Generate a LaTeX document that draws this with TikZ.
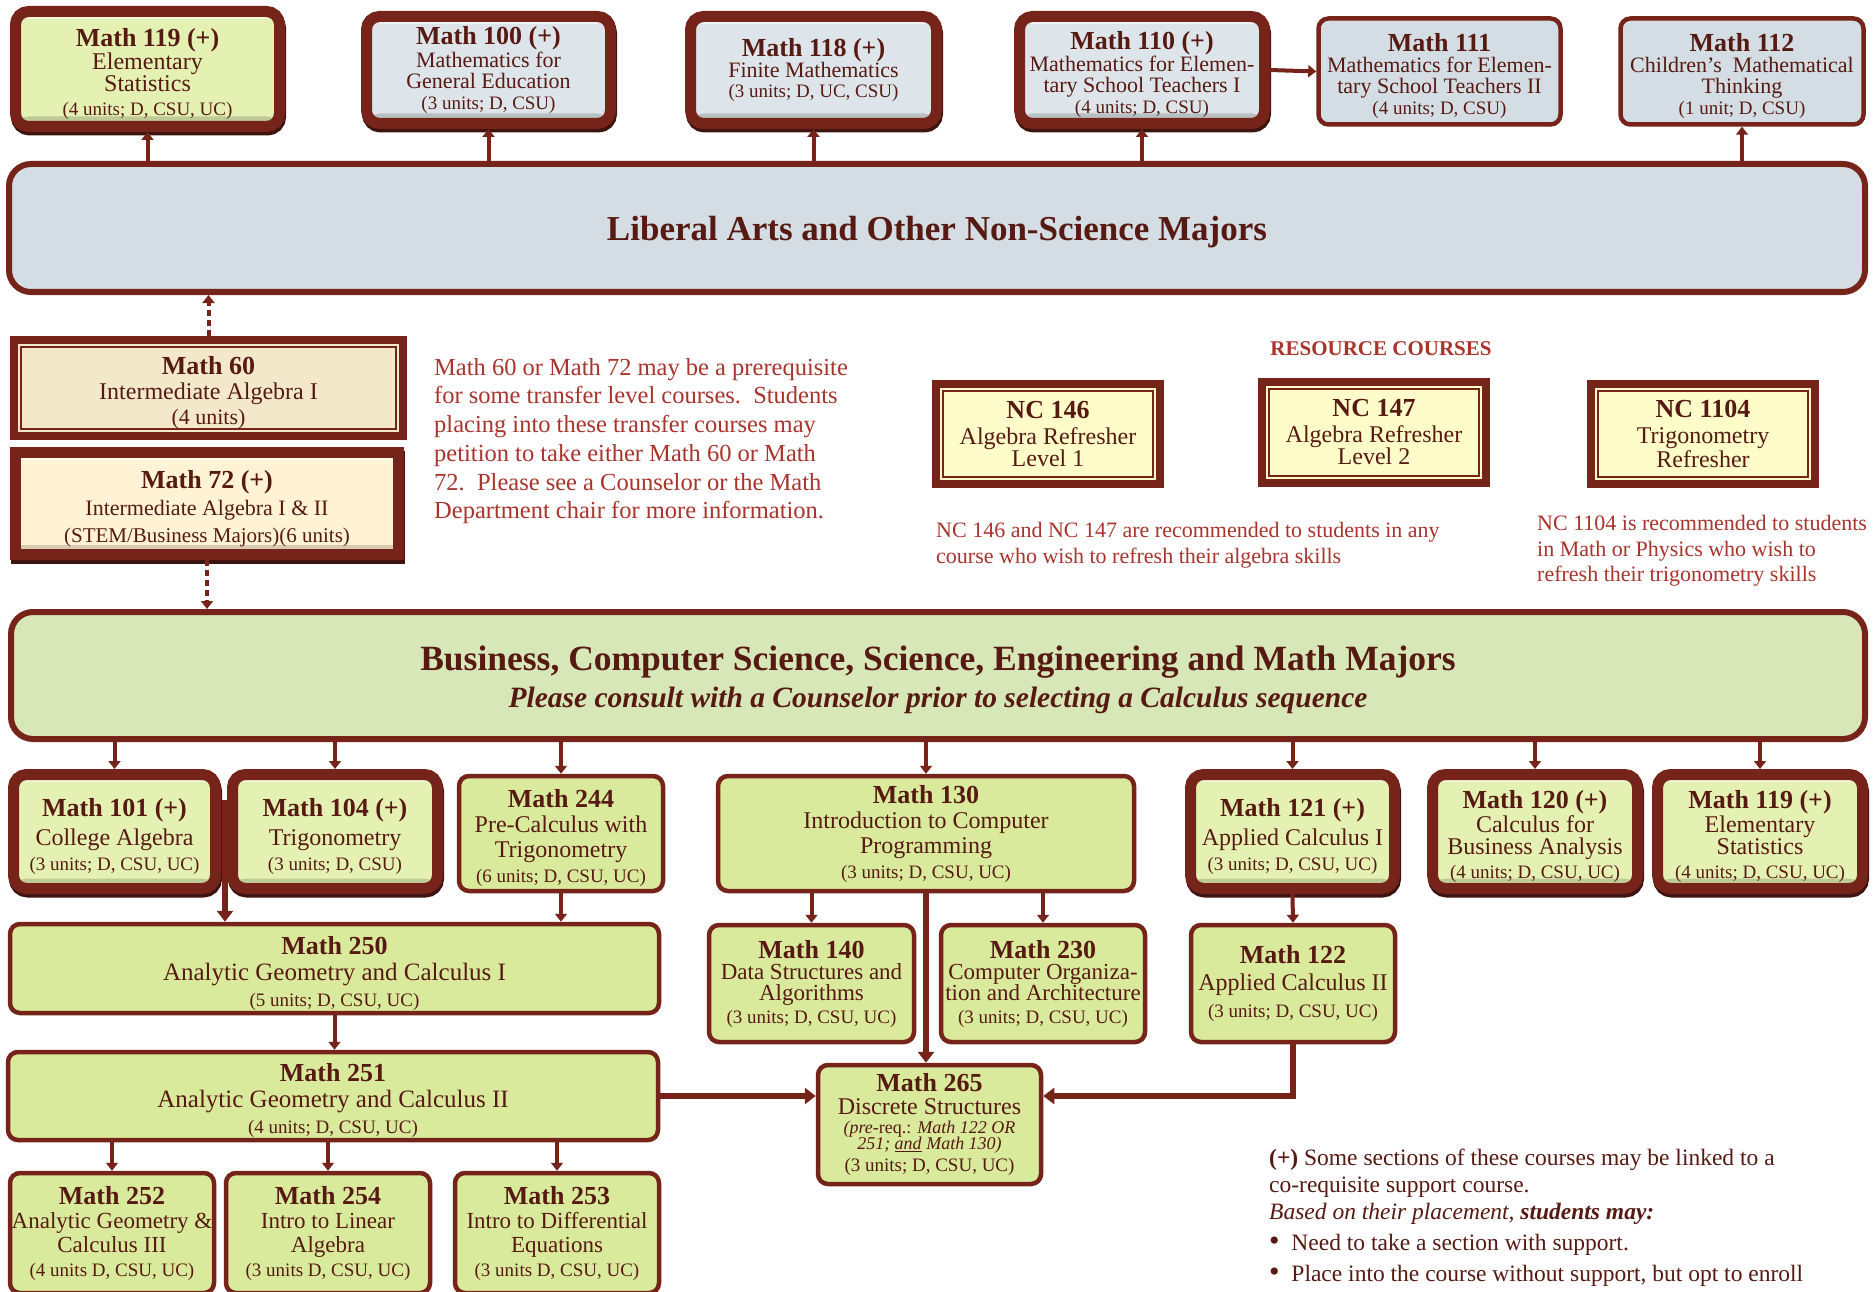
\documentclass[tikz,border=0pt]{standalone}
\usepackage{fontspec}
\setmainfont{Liberation Serif}
\usetikzlibrary{arrows.meta}

\definecolor{frame}{HTML}{76231A}
\definecolor{framedk}{HTML}{3E1410}
\definecolor{txt}{HTML}{561A12}
\definecolor{redtxt}{HTML}{A8342C}
\definecolor{bluefill}{HTML}{D3DDE3}
\definecolor{bluepanel}{HTML}{DDE5EA}
\definecolor{greenfill}{HTML}{DAEA9C}
\definecolor{greenpanel}{HTML}{E4F1B3}
\definecolor{bizfill}{HTML}{D8E7B8}
\definecolor{sandfill}{HTML}{F4E8CA}
\definecolor{creamfill}{HTML}{FFF3D3}
\definecolor{ncfill}{HTML}{FEFCC9}

\newcommand\ctitle[1]{{\fontsize{26}{26}\selectfont\bfseries\rule{0pt}{28pt}#1}}
\newcommand\chead[1]{{\fontsize{26}{26}\selectfont\bfseries #1}}
\newcommand\cunits[1]{{\fontsize{19}{19}\selectfont #1}}
\newcommand\bigdot{{\fontsize{30}{20}\selectfont\textbullet}}

\begin{document}
\begin{tikzpicture}[x=1pt,y=-1pt,
  every node/.style={text=txt, align=center, inner sep=0pt, font=\fontsize{24}{25}\selectfont},
  ornate/.style={draw=frame, line width=11pt, rounded corners=13pt, fill=#1,
    preaction={draw=framedk, line width=11pt, transform canvas={shift={(1pt,-3.5pt)}}},
    path picture={\fill[black,opacity=.16] ([yshift=10pt]path picture bounding box.south west) rectangle (path picture bounding box.south east);
      \fill[white,opacity=.5] ([yshift=-7.5pt]path picture bounding box.north west) rectangle (path picture bounding box.north east);}},
  plainbox/.style={draw=frame, line width=4.5pt, rounded corners=10pt, fill=#1},
  majorbox/.style={draw=frame, line width=6pt, rounded corners=22pt, fill=#1},
  ncframe/.style={draw=frame, line width=8pt, fill=#1,
    path picture={\draw[frame, line width=1.6pt] ([shift={(7pt,-7pt)}]path picture bounding box.north west) rectangle ([shift={(-7pt,7pt)}]path picture bounding box.south east);}},
  toprow/.style={font=\fontsize{22}{21}\selectfont},
  notetext/.style={text=redtxt, align=left, anchor=north west},
  arr/.style={draw=frame, line width=4pt, -{Triangle[width=12pt,length=8pt]}},
  bigarr/.style={draw=frame, line width=5.5pt, -{Triangle[width=16pt,length=11pt]}},
  dotarr/.style={arr, dash pattern=on 6pt off 4pt}]

  \fill[white] (0,0) rectangle (1875,1292);
  \useasboundingbox (0,0) rectangle (1875,1292);

  \node[ornate=greenpanel, minimum width=264pt, minimum height=115pt, font=\fontsize{24}{22}\selectfont] (m119a) at (147.5,69) {\ctitle{Math 119 (+)}\\ Elementary\\ Statistics\\[2pt] \cunits{(4 units; D, CSU, UC)}};
  \node[ornate=bluepanel, toprow, minimum width=244pt, minimum height=107pt] (m100) at (488.5,70) {\chead{Math 100 (+)}\\ Mathematics for\\ General Education\\ \cunits{(3 units; D, CSU)}};
  \node[ornate=bluepanel, font=\fontsize{22}{20}\selectfont, minimum width=246pt, minimum height=107pt] (m118) at (813.5,70) {\chead{Math 118 (+)}\\ Finite Mathematics\\ \cunits{(3 units; D, UC, CSU)}};
  \node[ornate=bluepanel, toprow, minimum width=245pt, minimum height=107pt] (m110) at (1142,70) {\ctitle{Math 110 (+)}\\ Mathematics for Elemen-\\ tary School Teachers I\\ \cunits{(4 units; D, CSU)}};
  \node[plainbox=bluefill, toprow, minimum width=242pt, minimum height=106pt] (m111) at (1439.5,71.5) {\ctitle{Math 111}\\ Mathematics for Elemen-\\ tary School Teachers II\\ \cunits{(4 units; D, CSU)}};
  \node[plainbox=bluefill, toprow, minimum width=243pt, minimum height=106pt] (m112) at (1742,71.5) {\ctitle{Math 112}\\ Children’s\ \ Mathematical\\ Thinking\\ \cunits{(1 unit; D, CSU)}};

  \node[majorbox=bluefill, minimum width=1856pt, minimum height=128pt, text depth=0pt, font=\fontsize{35}{37}\selectfont\bfseries] (libarts) at (937,228) {Liberal Arts and Other Non-Science Majors};

  \node[ncframe=sandfill, minimum width=389pt, minimum height=96pt] (m60) at (208.5,388) {\ctitle{Math 60}\\ Intermediate Algebra I\\ {\fontsize{22}{22}\selectfont (4 units)}};
  \node[ornate=creamfill, sharp corners, minimum width=383pt, minimum height=102pt, font=\fontsize{22}{27}\selectfont] (m72) at (207,503.5) {\ctitle{Math 72 (+)}\\ Intermediate Algebra I \& II\\ {\fontsize{21}{21}\selectfont (STEM/Business Majors)(6 units)}};

  \node[notetext, font=\fontsize{24.5}{28.7}\selectfont] (prereq) at (434,358) {Math 60 or Math 72 may be a prerequisite\\ for some transfer level courses.\ \ Students\\ placing into these transfer courses may\\ petition to take either Math 60 or Math\\ 72.\ \ Please see a Counselor or the Math\\ Department chair for more information.};

  \node[text=redtxt, font=\fontsize{21}{21}\selectfont\bfseries] (rescourses) at (1381,349) {RESOURCE COURSES};
  \node[ncframe=ncfill, minimum width=224pt, minimum height=100pt, font=\fontsize{24}{22}\selectfont] (nc146) at (1048,434) {\chead{NC 146}\\[4pt] Algebra Refresher\\ Level 1};
  \node[ncframe=ncfill, minimum width=224pt, minimum height=101pt, font=\fontsize{24}{22}\selectfont] (nc147) at (1374,432.5) {\chead{NC 147}\\[4pt] Algebra Refresher\\ Level 2};
  \node[ncframe=ncfill, minimum width=224pt, minimum height=100pt, font=\fontsize{24}{22}\selectfont] (nc1104) at (1703,434) {\chead{NC 1104}\\[4pt] Trigonometry\\ Refresher};
  \node[notetext, font=\fontsize{22}{26}\selectfont] (ncnote) at (936,522) {NC 146 and NC 147 are recommended to students in any\\ course who wish to refresh their algebra skills};
  \node[notetext, font=\fontsize{22}{25.7}\selectfont] (trignote) at (1537,515) {NC 1104 is recommended to students\\ in Math or Physics who wish to\\ refresh their trigonometry skills};

  \node[majorbox=bizfill, minimum width=1854pt, minimum height=127pt, font=\fontsize{35.5}{37}\selectfont] (bsci) at (938,675.5) {\rule{0pt}{34pt}\textbf{Business, Computer Science, Science, Engineering and Math Majors}\\ {\fontsize{29.5}{28}\selectfont\bfseries\itshape Please consult with a Counselor prior to selecting a Calculus sequence}};

  \node[ornate=greenpanel, minimum width=202pt, minimum height=114pt] (m101) at (114.5,831.5) {\ctitle{Math 101 (+)}\\[4pt] College Algebra\\ \cunits{(3 units; D, CSU, UC)}};
  \node[ornate=greenpanel, minimum width=205pt, minimum height=114pt] (m104) at (335,831.5) {\ctitle{Math 104 (+)}\\[4pt] Trigonometry\\ \cunits{(3 units; D, CSU)}};
  \node[plainbox=greenfill, minimum width=204pt, minimum height=115pt] (m244) at (561,833.5) {\ctitle{Math 244}\\ Pre-Calculus with\\ Trigonometry\\ \cunits{(6 units; D, CSU, UC)}};
  \node[plainbox=greenfill, minimum width=416pt, minimum height=115pt] (m130) at (926,833.5) {\chead{Math 130}\\ Introduction to Computer\\ Programming\\ \cunits{(3 units; D, CSU, UC)}};
  \node[ornate=greenpanel, minimum width=204pt, minimum height=114pt] (m121) at (1292.5,831.5) {\ctitle{Math 121 (+)}\\[4pt] Applied Calculus I\\ \cunits{(3 units; D, CSU, UC)}};
  \node[ornate=greenpanel, minimum width=205pt, minimum height=114pt, font=\fontsize{24}{22}\selectfont] (m120) at (1535,831.5) {\ctitle{Math 120 (+)}\\ Calculus for\\ Business Analysis\\[2pt] \cunits{(4 units; D, CSU, UC)}};
  \node[ornate=greenpanel, minimum width=205pt, minimum height=114pt, font=\fontsize{24}{22}\selectfont] (m119b) at (1760,831.5) {\ctitle{Math 119 (+)}\\ Elementary\\ Statistics\\[2pt] \cunits{(4 units; D, CSU, UC)}};

  \node[plainbox=greenfill, minimum width=649pt, minimum height=89pt, font=\fontsize{25}{26}\selectfont] (m250) at (334.5,968.5) {\ctitle{Math 250}\\ Analytic Geometry and Calculus I\\ \cunits{(5 units; D, CSU, UC)}};
  \node[plainbox=greenfill, minimum width=205pt, minimum height=117pt, font=\fontsize{23}{21}\selectfont] (m140) at (811.5,983.5) {\chead{Math 140}\\ Data Structures and\\ Algorithms\\[2pt] \cunits{(3 units; D, CSU, UC)}};
  \node[plainbox=greenfill, minimum width=204pt, minimum height=117pt, font=\fontsize{23}{21}\selectfont] (m230) at (1043,983.5) {\chead{Math 230}\\ Computer Organiza-\\ tion and Architecture\\[2pt] \cunits{(3 units; D, CSU, UC)}};
  \node[plainbox=greenfill, minimum width=204pt, minimum height=117pt, font=\fontsize{24}{27}\selectfont] (m122) at (1293,983.5) {\chead{Math 122}\\ Applied Calculus II\\ \cunits{(3 units; D, CSU, UC)}};

  \node[plainbox=greenfill, minimum width=650pt, minimum height=88pt, font=\fontsize{25}{26}\selectfont] (m251) at (333,1096) {\ctitle{Math 251}\\ Analytic Geometry and Calculus II\\ \cunits{(4 units; D, CSU, UC)}};
  \node[plainbox=greenfill, minimum width=223pt, minimum height=119pt, font=\fontsize{24}{23}\selectfont] (m265) at (929.5,1124.5) {\chead{Math 265}\\ Discrete Structures\\[-4pt] {\fontsize{18}{18}\selectfont\textit{(pre-}req.: \textit{Math 122 OR}}\\[-7pt] {\fontsize{18}{18}\selectfont\itshape 251; \underline{and} Math 130)}\\[-1pt] \cunits{(3 units; D, CSU, UC)}};

  \node[plainbox=greenfill, minimum width=204pt, minimum height=120pt, font=\fontsize{23}{24}\selectfont] (m252) at (112,1233) {\chead{Math 252}\\ Analytic Geometry \&\\ Calculus III\\ \cunits{(4 units D, CSU, UC)}};
  \node[plainbox=greenfill, minimum width=204pt, minimum height=120pt, font=\fontsize{23}{24}\selectfont] (m254) at (328,1233) {\chead{Math 254}\\ Intro to Linear\\ Algebra\\ \cunits{(3 units D, CSU, UC)}};
  \node[plainbox=greenfill, minimum width=204pt, minimum height=120pt, font=\fontsize{23}{24}\selectfont] (m253) at (557,1233) {\chead{Math 253}\\ Intro to Differential\\ Equations\\ \cunits{(3 units D, CSU, UC)}};

  \node[anchor=north west, align=left, font=\fontsize{23.5}{27}\selectfont] (plusnote) at (1269,1149) {\textbf{(+)} Some sections of these courses may be linked to a\\ co-requisite support course.\\ \textit{Based on their placement, \textbf{students may:}}\\[4pt] \bigdot\ \ Need to take a section with support.\\[4pt] \bigdot\ \ Place into the course without support, but opt to enroll};

  \draw[arr] (libarts.north -| m119a.south) -- (m119a.south);
  \draw[arr] (libarts.north -| m100.south) -- (m100.south);
  \draw[arr] (libarts.north -| m118.south) -- (m118.south);
  \draw[arr] (libarts.north -| m110.south) -- (m110.south);
  \draw[arr] (libarts.north -| m112.south) -- (m112.south);
  \draw[arr] (m110.east) -- (m111.west);
  \draw[dotarr] (m60.north) -- (m60.north |- libarts.south);
  \draw[dotarr] (m72.south) -- (m72.south |- bsci.north);

  \draw[arr] (bsci.south -| m101.north) -- (m101.north);
  \draw[arr] (bsci.south -| m104.north) -- (m104.north);
  \draw[arr] (bsci.south -| m244.north) -- (m244.north);
  \draw[arr] (bsci.south -| m130.north) -- (m130.north);
  \draw[arr] (bsci.south -| m121.north) -- (m121.north);
  \draw[arr] (bsci.south -| m120.north) -- (m120.north);
  \draw[arr] (bsci.south -| m119b.north) -- (m119b.north);

  \coordinate (split) at (225,800);
  \draw[bigarr] (split) -- (split |- m250.north);
  \draw[arr] (m244.south) -- (m244.south |- m250.north);
  \draw[arr] (m250.south) -- (m250.south |- m251.north);
  \draw[arr] (m140.north |- m130.south) -- (m140.north);
  \draw[arr] (m230.north |- m130.south) -- (m230.north);
  \draw[bigarr] (m130.south) -- (m130.south |- m265.north);
  \draw[arr] (m121.south) -- (m122.north);
  \draw[bigarr] (m251.east) -- (m251.east -| m265.west);
  \draw[bigarr] (m122.south) |- (m251.east -| m265.east);
  \draw[arr] (m252.north |- m251.south) -- (m252.north);
  \draw[arr] (m254.north |- m251.south) -- (m254.north);
  \draw[arr] (m253.north |- m251.south) -- (m253.north);
\end{tikzpicture}
\end{document}
